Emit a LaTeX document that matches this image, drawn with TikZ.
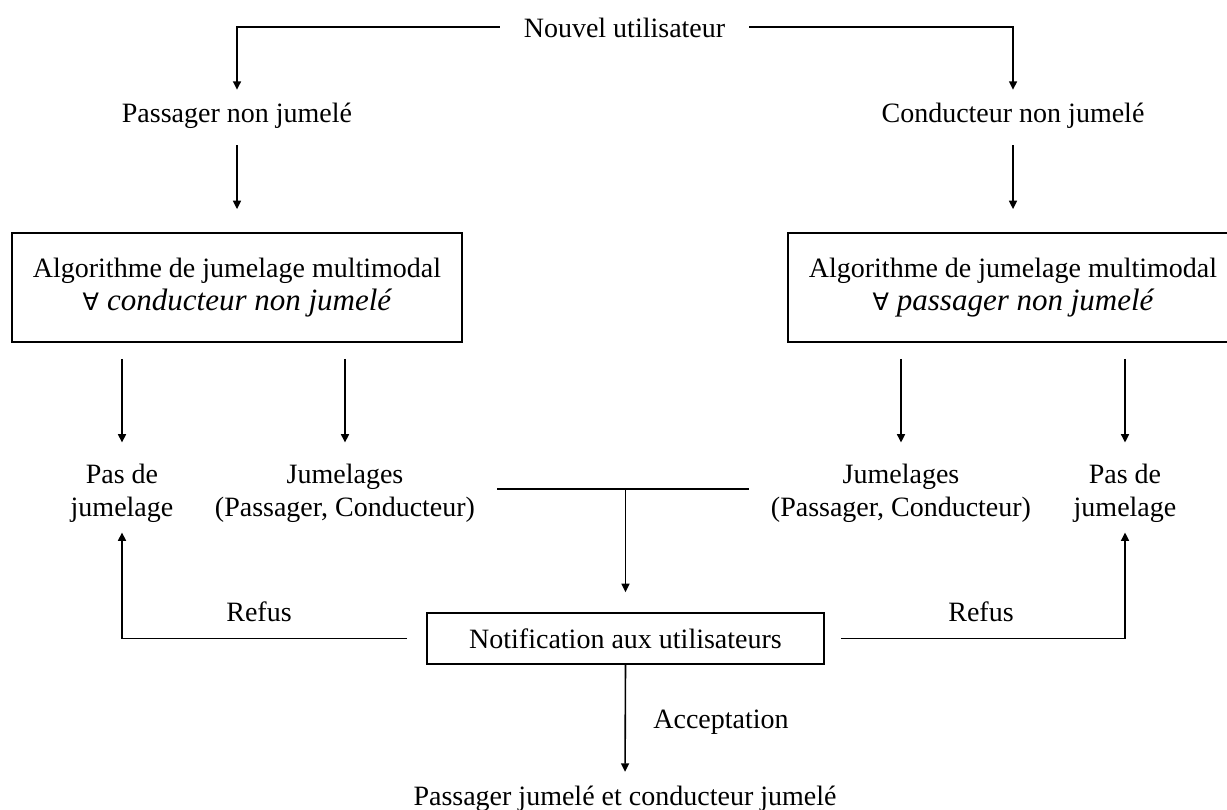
\documentclass[tikz,border=0pt]{standalone}
\usepackage{fontspec}
\setmainfont{Liberation Serif}
\newfontfamily\forallfont{DejaVu Sans}
\usetikzlibrary{arrows.meta,calc}
\newcommand{\varitext}[1]{{\fontsize{31}{33}\selectfont\itshape #1}}
\newcommand{\pourtout}{{\forallfont\fontsize{24}{33}\selectfont ∀}\hspace{8pt}}
\begin{document}
\begin{tikzpicture}[x=1pt,y=-1pt,
  every node/.style={font=\fontsize{28}{33}\selectfont, inner sep=0pt, text=black},
  lbl/.style={text height=19pt, text depth=6pt},
  multi/.style={align=center},
  jumel/.style={align=center, inner xsep=22pt},
  procbox/.style={draw, line width=1.8pt, align=center, minimum width=450pt, minimum height=109pt},
  notebox/.style={draw, line width=1.6pt, minimum width=397pt, minimum height=51pt},
  conn/.style={line width=1.6pt},
  arr/.style={conn, -{Triangle[length=8.5pt,width=8pt]}},
]
\useasboundingbox (0,0) rectangle (1227,810);
\clip (0,0) rectangle (1227,810);

% nodes
\node[lbl, text height=22pt, text depth=0pt, inner xsep=24pt] (nouv) at (624.5,27) {Nouvel utilisateur};
\node[lbl] (pnj) at (237,116.5) {Passager non jumelé};
\node[lbl] (cnj) at (1013,116.5) {Conducteur non jumelé};
\node[procbox] (alg1) at (237,287.5) {Algorithme de jumelage multimodal\\\pourtout\varitext{conducteur non jumelé}};
\node[procbox] (alg2) at (1013,287.5) {Algorithme de jumelage multimodal\\\pourtout\varitext{passager non jumelé}};
\node[multi] (pdj1) at (122,493) {Pas de\\jumelage};
\node[jumel] (jum1) at (345,493) {Jumelages\\(Passager, Conducteur)};
\node[jumel] (jum2) at (901,493) {Jumelages\\(Passager, Conducteur)};
\node[multi] (pdj2) at (1125,493) {Pas de\\jumelage};
\node[notebox] (notif) at (625.5,638.5) {Notification aux utilisateurs};
\node[lbl] (fin) at (625,798.5) {Passager jumelé et conducteur jumelé};
\node[lbl] (refus1) at (259,615) {Refus};
\node[lbl] (refus2) at (981,615) {Refus};
\node[lbl] (acc) at (721,722) {Acceptation};

% connectors
\draw[arr, shorten >=14pt] (nouv.west) -| (pnj.north);
\draw[arr, shorten >=14pt] (nouv.east) -| (cnj.north);
\draw[arr, shorten <=16pt, shorten >=23pt] (pnj.south) -- (alg1.north);
\draw[arr, shorten <=16pt, shorten >=23pt] (cnj.south) -- (alg2.north);
\draw[arr, shorten <=16pt, shorten >=21pt] (alg1.south -| pdj1.north) -- (pdj1.north);
\draw[arr, shorten <=16pt, shorten >=21pt] (alg1.south -| jum1.north) -- (jum1.north);
\draw[arr, shorten <=16pt, shorten >=21pt] (alg2.south -| jum2.north) -- (jum2.north);
\draw[arr, shorten <=16pt, shorten >=21pt] (alg2.south -| pdj2.north) -- (pdj2.north);
\draw[conn] ([yshift=4pt]jum1.east) -- ([yshift=4pt]jum2.west);
\path (notif.north |- jum1.east) ++(0,-4) coordinate (tj);
\draw[arr, shorten >=20pt] (tj) -- (notif.north);
\draw[arr, shorten <=19pt, shorten >=10pt] (notif.west) -| (pdj1.south);
\draw[arr, shorten <=16pt, shorten >=10pt] (notif.east) -| (pdj2.south);
\draw[arr, shorten >=14pt] (notif.south) -- (fin.north);
\end{tikzpicture}
\end{document}
